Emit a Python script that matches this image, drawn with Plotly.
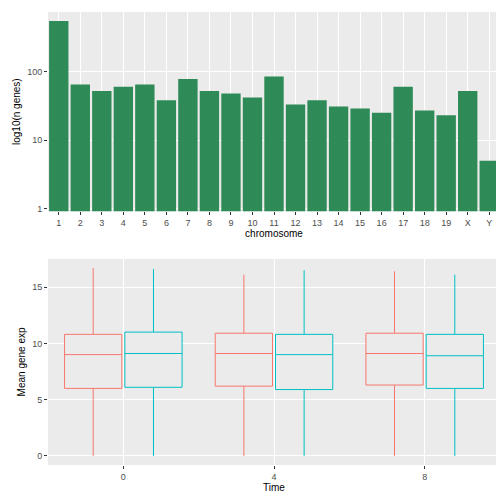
import plotly.graph_objects as go
from plotly.subplots import make_subplots

chromosomes = [str(i) for i in range(1, 20)] + ["X", "Y"]
n_genes = [550, 65, 52, 60, 65, 38, 78, 52, 48, 42, 85, 33, 38, 31, 29, 25, 60, 27, 23, 52, 5]

times = ["0", "4", "8"]
grp_a = dict(lo=[0, 0, 0], q1=[6.0, 6.2, 6.3], med=[9.0, 9.1, 9.1], q3=[10.8, 10.9, 10.9], hi=[16.7, 16.1, 16.4])
grp_b = dict(lo=[0, 0, 0], q1=[6.1, 5.9, 6.0], med=[9.1, 9.0, 8.9], q3=[11.0, 10.8, 10.8], hi=[16.6, 16.5, 16.1])

fig = make_subplots(rows=2, cols=1)

fig.add_trace(go.Bar(x=chromosomes, y=n_genes, marker_color="#2E8B57", marker_line_width=0,
                     showlegend=False), row=1, col=1)

for g, col in [(grp_a, "#F8766D"), (grp_b, "#00BFC4")]:
    fig.add_trace(go.Box(x=times, q1=g["q1"], median=g["med"], q3=g["q3"],
                         lowerfence=g["lo"], upperfence=g["hi"],
                         line=dict(color=col, width=1), fillcolor="#EBEBEB",
                         whiskerwidth=0, showlegend=False), row=2, col=1)

ax = dict(showgrid=True, gridcolor="white", zeroline=False, ticks="outside", ticklen=3,
          tickcolor="#333", tickfont=dict(size=9, color="#4D4D4D"), linecolor="rgba(0,0,0,0)",
          automargin=False)
fig.update_xaxes(**ax)
fig.update_yaxes(**ax)
fig.update_yaxes(type="log", tickvals=[1, 10, 100], range=[-0.04, 2.87], domain=[0.56, 1],
                 title=dict(text="log10(n genes)", font=dict(size=10, color="black"), standoff=4),
                 row=1, col=1)
fig.update_xaxes(title=dict(text="chromosome", font=dict(size=10, color="black"), standoff=2), row=1, col=1)
fig.update_yaxes(range=[-0.8, 17.5], tickvals=[0, 5, 10, 15], domain=[0, 0.455],
                 title=dict(text="Mean gene exp", font=dict(size=10, color="black"), standoff=4),
                 row=2, col=1)
fig.update_xaxes(title=dict(text="Time", font=dict(size=10, color="black"), standoff=2), row=2, col=1)

fig.update_layout(width=504, height=504, boxmode="group", boxgap=0.2, boxgroupgap=0.05,
                  bargap=0.1, plot_bgcolor="#EBEBEB", paper_bgcolor="white",
                  margin=dict(l=40, r=12, t=4, b=47), font=dict(family="Liberation Sans"))

fig.write_html("out.html")
